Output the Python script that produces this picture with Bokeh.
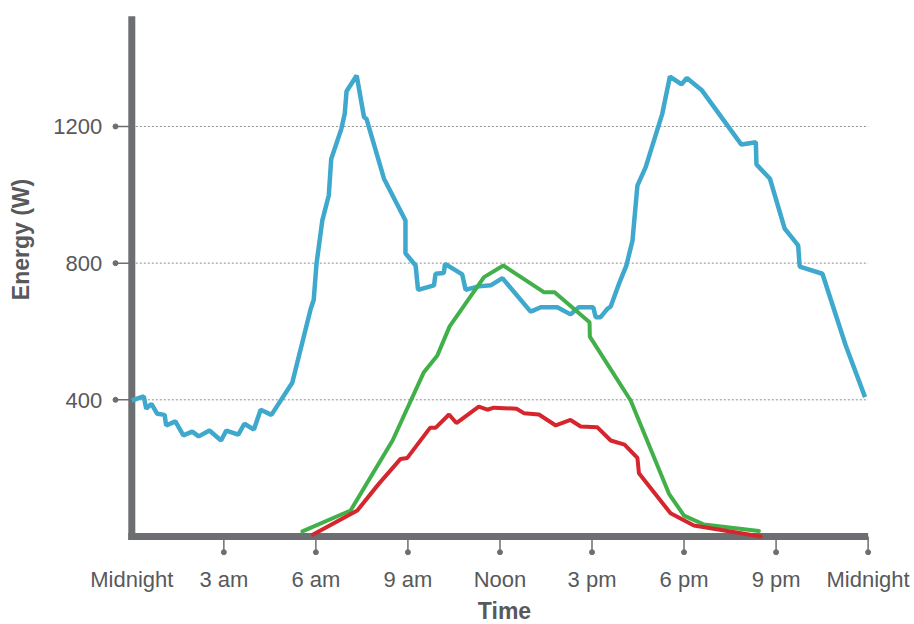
import math
from bokeh.plotting import figure
from bokeh.models import Range1d
from bokeh.core.properties import value
from bokeh.embed import file_html
from bokeh.resources import INLINE

# ---------------- data ----------------
TICK_HOURS = [0, 3, 6, 9, 12, 15, 18, 21, 24]
TICK_LABELS = ["Midnight", "3 am", "6 am", "9 am", "Noon", "3 pm", "6 pm", "9 pm", "Midnight"]
Y_TICKS = [400, 800, 1200]
Y_TICK_LABELS = ["400", "800", "1200"]
X_TITLE = "Time"
Y_TITLE = "Energy (W)"

use_hours = [0, 0.39, 0.47, 0.64, 0.83, 1.07, 1.12, 1.42, 1.68, 1.97, 2.18, 2.53, 2.91, 3.08,
             3.47, 3.67, 3.98, 4.20, 4.55, 5.23, 5.83, 5.93, 6.02, 6.21, 6.42, 6.50, 6.83, 6.94,
             7.00, 7.33, 7.57, 7.65, 8.22, 8.92, 8.92, 9.25, 9.33, 9.85, 9.90, 10.17, 10.21,
             10.77, 10.88, 11.31, 11.70, 12.08, 13.0, 13.33, 13.87, 14.3, 14.57, 15.04, 15.12,
             15.28, 15.5, 15.61, 15.88, 16.12, 16.32, 16.48, 16.75, 17.29, 17.54, 17.92, 18.09,
             18.57, 19.87, 20.34, 20.36, 20.80, 21.28, 21.72, 21.77, 22.51, 23.27, 23.90]
use_watts = [398, 410, 374, 388, 359, 356, 325, 337, 296, 307, 293, 310, 281, 310,
             298, 330, 313, 371, 356, 450, 666, 693, 798, 925, 998, 1105, 1193, 1237,
             1303, 1349, 1227, 1222, 1047, 925, 829, 793, 722, 735, 769, 771, 798,
             767, 722, 732, 735, 756, 658, 671, 671, 650, 671, 671, 642,
             642, 666, 673, 740, 793, 866, 1027, 1081, 1237, 1346, 1323, 1342,
             1307, 1147, 1154, 1089, 1047, 901, 852, 790, 769, 559, 408]

green_hours = [5.56, 7.13, 8.5, 9.52, 9.96, 10.36, 11.48, 12.11, 13.43, 13.78, 14.92, 14.93,
               16.26, 17.51, 18.0, 18.65, 20.44]
green_watts = [15, 76, 281, 481, 530, 615, 759, 793, 715, 715, 627, 585,
               398, 125, 61, 35, 16]

red_hours = [5.91, 7.35, 8.05, 8.76, 8.98, 9.72, 9.9, 10.34, 10.58, 11.31, 11.59, 11.80, 12.54,
             12.78, 13.27, 13.82, 14.3, 14.63, 15.17, 15.61, 16.06, 16.48, 16.53, 17.56, 18.32, 20.5]
red_watts = [6, 76, 154, 227, 230, 318, 318, 357, 332, 380, 371, 377, 374,
             361, 357, 325, 341, 322, 320, 281, 269, 230, 185, 68, 32, 0]

# ---------------- layout constants (pixels) ----------------
W_PX, H_PX = 914, 624
X0_PX, PX_PER_HR = 131.3, 30.68
Y0_PX, PX_PER_W = 536.0, 0.3417


def hx(px):
    return (px - X0_PX) / PX_PER_HR


def wy(py):
    return (Y0_PX - py) / PX_PER_W


GRAY = "#6d6e71"
TEXT = "#58595b"
FONT = "Liberation Sans"

p = figure(width=W_PX, height=H_PX,
           x_range=Range1d(hx(0), hx(W_PX)),
           y_range=Range1d(wy(H_PX), wy(0)),
           output_backend="svg", toolbar_location=None, min_border=0)
p.outline_line_color = None
p.xaxis.visible = False
p.yaxis.visible = False
p.xgrid.visible = False
p.ygrid.visible = False
p.background_fill_color = "white"
p.border_fill_color = "white"

n_y = len(Y_TICKS)
n_x = len(TICK_HOURS)

# gridlines
p.segment(x0=[0] * n_y, x1=[TICK_HOURS[-1]] * n_y, y0=Y_TICKS, y1=Y_TICKS,
          line_color="#8c8c8c", line_width=1, line_dash="2 2")

# tick marks with dots
tdx = hx(115)
p.segment(x0=[tdx] * n_y, x1=[0] * n_y, y0=Y_TICKS, y1=Y_TICKS,
          line_color=GRAY, line_width=1.5)
p.scatter(x=[tdx] * n_y, y=Y_TICKS, size=5, color=GRAY)
tdy = wy(551.7)
p.segment(x0=TICK_HOURS[1:], x1=TICK_HOURS[1:], y0=[0] * (n_x - 1),
          y1=[tdy] * (n_x - 1), line_color=GRAY, line_width=1.5)
p.scatter(x=TICK_HOURS[1:], y=[tdy] * (n_x - 1), size=5, color=GRAY)

# axis bars
p.line(x=[0, 0], y=[wy(Y0_PX + 3.5), wy(15.7)], line_color=GRAY, line_width=7)
p.line(x=[hx(X0_PX - 3.5), TICK_HOURS[-1]], y=[0, 0], line_color=GRAY, line_width=7)

# tick labels
p.text(x=TICK_HOURS, y=[wy(579.3)] * n_x, text=TICK_LABELS,
       text_align="center", text_baseline="alphabetic",
       text_font=value(FONT), text_font_size=value("22px"), text_color=TEXT)
p.text(x=[hx(101.7)] * n_y, y=[w - 0.5 / PX_PER_W for w in Y_TICKS], text=Y_TICK_LABELS,
       text_align="right", text_baseline="alphabetic",
       text_font=value(FONT), text_font_size=value("22px"), text_color=TEXT)

# axis titles
p.text(x=[hx(504)], y=[wy(610.5)], text=[X_TITLE], text_align="center",
       text_baseline="alphabetic", text_font=value(FONT), text_font_size=value("23px"),
       text_font_style="bold", text_color=TEXT)
p.text(x=[hx(20.8)], y=[wy(239)], text=[Y_TITLE], angle=math.pi / 2, text_align="center",
       text_baseline="alphabetic", text_font=value(FONT), text_font_size=value("23px"),
       text_font_style="bold", text_color=TEXT)

# series
p.line(use_hours, use_watts, line_color="#3ea8cd", line_width=4.5)
p.line(green_hours, green_watts, line_color="#42b04a", line_width=4, line_cap="round")
p.line(red_hours, red_watts, line_color="#d5262d", line_width=4, line_cap="round")

open("out.html", "w").write(file_html(p, INLINE))
